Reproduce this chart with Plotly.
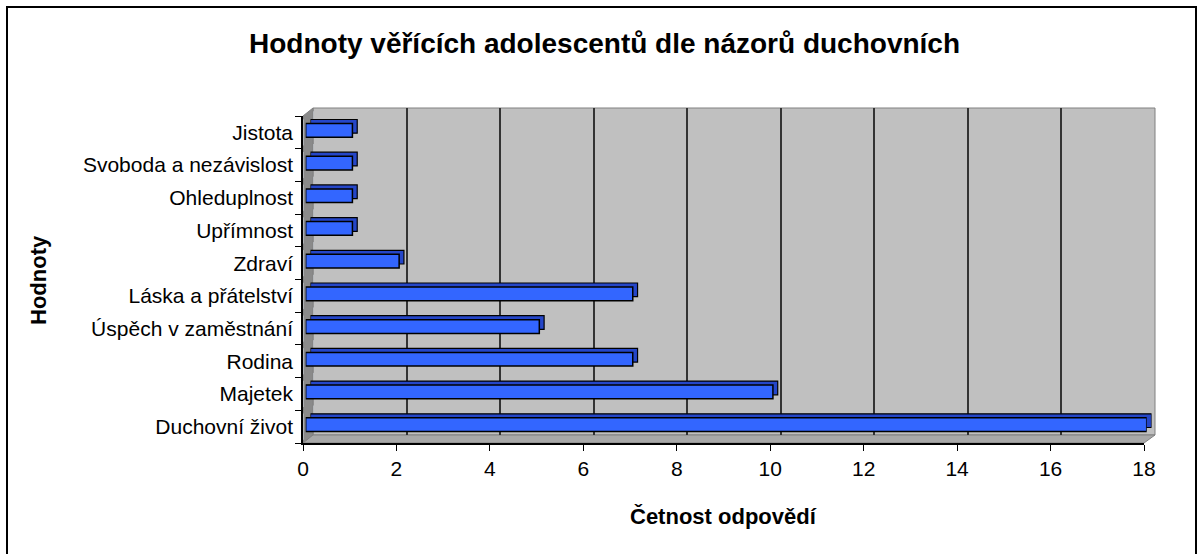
import plotly.graph_objects as go

categories = ["Duchovní život", "Majetek", "Rodina", "Úspěch v zaměstnání", "Láska a přátelství",
              "Zdraví", "Upřímnost", "Ohleduplnost", "Svoboda a nezávislost", "Jistota"]
values = [18, 10, 7, 5, 7, 2, 1, 1, 1, 1]
x_ticks = [0, 2, 4, 6, 8, 10, 12, 14, 16, 18]

title_text = "Hodnoty věřících adolescentů dle názorů duchovních"
x_title = "Četnost odpovědí"
y_title = "Hodnoty"

W, H = 1200, 554
L, R, T, B = 303, 1155, 108, 443  # plot area in px
PW, PH = R - L, B - T

def px(x):
    return (x - L) / PW

def py(y):
    return (B - y) / PH

FONT = "Liberation Sans, Arial, sans-serif"
XR = [0, 18]
front_w = 841  # px width of front axis

def xdom(off):
    return [off / PW, (off + front_w) / PW]

def ydom(off):
    return [off / PH, (off + 327) / PH]

fig = go.Figure()

# depth (back face) of bars
fig.add_trace(go.Bar(y=categories, x=values, orientation="h", width=0.42,
                     marker=dict(color="#2546c8", line=dict(color="black", width=1.2)),
                     xaxis="x3", yaxis="y3", hoverinfo="skip", showlegend=False))
# front face of bars
fig.add_trace(go.Bar(y=categories, x=values, orientation="h", width=0.42,
                     marker=dict(color="#3366ff", line=dict(color="black", width=1.5)),
                     xaxis="x4", yaxis="y4", showlegend=False))
# invisible trace on the main axes so the labelled axes are drawn
fig.add_trace(go.Bar(y=categories, x=[0] * len(categories), orientation="h",
                     marker=dict(color="rgba(0,0,0,0)"), hoverinfo="skip", showlegend=False))
# invisible trace on back-wall axes for gridlines
fig.add_trace(go.Bar(y=categories, x=[0] * len(categories), orientation="h",
                     marker=dict(color="rgba(0,0,0,0)"), xaxis="x2", yaxis="y2",
                     hoverinfo="skip", showlegend=False))

hidden_y = dict(type="category", categoryorder="array", categoryarray=categories,
                showticklabels=False, showgrid=False, zeroline=False, showline=False, ticks="")
hidden_x = dict(range=XR, showticklabels=False, showgrid=False, zeroline=False,
                showline=False, ticks="")

fig.update_layout(
    width=W, height=H,
    margin=dict(l=L, r=W - R, t=T, b=H - B),
    paper_bgcolor="white", plot_bgcolor="rgba(0,0,0,0)",
    barmode="overlay",
    font=dict(family=FONT, color="black"),
    xaxis=dict(domain=xdom(0), range=XR, tickvals=x_ticks, ticks="outside", ticklen=6,
               tickcolor="black", showline=True, linecolor="black", linewidth=1.5,
               showgrid=False, zeroline=False, tickfont=dict(size=21, family=FONT),
               anchor="y"),
    yaxis=dict(domain=ydom(0), type="category", categoryorder="array", categoryarray=categories,
               ticks="outside", ticklen=6, tickcolor="black", tickson="boundaries",
               showline=True, linecolor="black", linewidth=1.5, showgrid=False,
               ticklabelstandoff=4,
               tickfont=dict(size=21, family=FONT), anchor="x"),
    xaxis2=dict(hidden_x, domain=[10 / PW, 1.0], anchor="y2", showgrid=True,
                gridcolor="#333333", gridwidth=1.5, tickvals=x_ticks),
    yaxis2=dict(hidden_y, domain=[8 / PH, 1.0], anchor="x2"),
    xaxis3=dict(hidden_x, domain=xdom(7.5), anchor="y3"),
    yaxis3=dict(hidden_y, domain=ydom(6), anchor="x3"),
    xaxis4=dict(hidden_x, domain=xdom(2.7), anchor="y4"),
    yaxis4=dict(hidden_y, domain=ydom(2), anchor="x4"),
)

shapes = []
# back wall
shapes.append(dict(type="rect", xref="paper", yref="paper", x0=px(313), x1=px(1155),
                   y0=py(435), y1=py(108), fillcolor="#c0c0c0",
                   line=dict(color="#808080", width=1), layer="below"))
# side wall
shapes.append(dict(type="path", xref="paper", yref="paper",
                   path=f"M {px(303)} {py(443)} L {px(303)} {py(116)} L {px(313)} {py(108)} L {px(313)} {py(435)} Z",
                   fillcolor="#8a8a8a", line=dict(color="#808080", width=1), layer="below"))
# floor
shapes.append(dict(type="path", xref="paper", yref="paper",
                   path=f"M {px(303)} {py(443)} L {px(313)} {py(435)} L {px(1155)} {py(435)} L {px(1144)} {py(443)} Z",
                   fillcolor="#a8a8a8", line=dict(color="#808080", width=1), layer="below"))
# outer border
shapes.append(dict(type="rect", xref="paper", yref="paper", x0=px(7), x1=px(1196),
                   y0=py(560), y1=py(7), line=dict(color="black", width=2),
                   fillcolor="rgba(0,0,0,0)", layer="above"))
fig.update_layout(shapes=shapes)

fig.add_annotation(text=f"<b>{title_text}</b>", xref="paper", yref="paper",
                   x=px(604), y=py(43), showarrow=False, xanchor="center", yanchor="middle",
                   font=dict(size=28, family=FONT))
fig.add_annotation(text=f"<b>{x_title}</b>", xref="paper", yref="paper",
                   x=px(723), y=py(516), showarrow=False, xanchor="center", yanchor="middle",
                   font=dict(size=22, family=FONT))
fig.add_annotation(text=f"<b>{y_title}</b>", xref="paper", yref="paper",
                   x=px(38), y=py(280), showarrow=False, xanchor="center", yanchor="middle",
                   textangle=-90, font=dict(size=22, family=FONT))

fig.write_html("out.html", config={"displayModeBar": False},
               post_script="document.body.style.margin='0';document.body.style.overflow='hidden';")
